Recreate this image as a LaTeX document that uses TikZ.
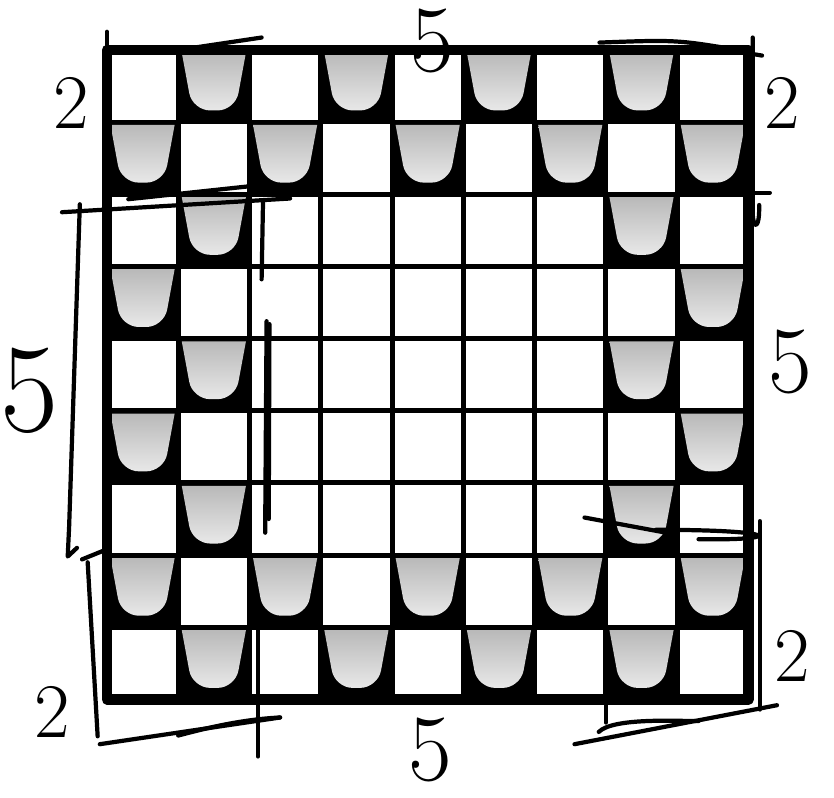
\documentclass[tikz,border=0pt]{standalone}
\begin{document}
\begin{tikzpicture}[x=0.713cm,y=0.722cm,line cap=round,line join=round,
    pen/.style={line width=1.2pt},
    num/.style={inner sep=0pt,font=\fontsize{22}{22}\selectfont},
    bignum/.style={inner sep=0pt,font=\fontsize{27}{27}\selectfont}]
  \useasboundingbox (-1.50,-1.357) rectangle (10.20,9.69);
  % dark cells of the border ring
  \foreach \r in {1,...,9}
    \foreach \c in {1,...,9}{
      \pgfmathtruncatemacro{\dark}{((\r<3)||(\r>7)||(\c<3)||(\c>7))&&(mod(\r+\c,2)==1)}
      \ifnum\dark=1
        \fill (\c-1,9-\r) rectangle (\c,10-\r);
        \shade[top color=gray!55,bottom color=gray!18]
          (\c-0.95,9.96-\r) -- (\c-0.05,9.96-\r) [rounded corners=5pt]-- (\c-0.2,9.16-\r)
          -- (\c-0.8,9.16-\r) [sharp corners]-- cycle;
      \fi
    }
  \foreach \i in {1,...,8}{
    \draw[line width=1.4pt] (\i,0) -- (\i,9);
    \draw[line width=1.4pt] (0,\i) -- (9,\i);
  }
  \draw[line width=3pt] (0,0) rectangle (9,9);
  % hand marks, top
  \draw[pen] (0,9.25) -- (0,9);
  \draw[pen] (1.02,9.0) -- (2.17,9.17);
  \draw[pen] (6.82,9.04) -- (8.92,9.04);
  \draw[pen] (6.91,9.1) .. controls (8.0,9.14) .. (8.95,8.98);
  \node[num] (twoTL) at (-0.50,8.27) {2};
  \node[bignum] (fiveT) at (4.56,9.12) {5};
  % right
  \draw[pen] (9.06,9.17) -- (9.06,6.75) .. controls (9.06,6.5) and (9.16,6.5) .. (9.15,6.85);
  \draw[pen] (8.95,8.96) -- (9.19,8.92);
  \draw[pen] (8.88,7.02) -- (9.30,7.02);
  \node[num] (twoTR) at (9.47,8.27) {2};
  \node[bignum] (fiveR) at (9.58,4.67) {5};
  \draw[pen] (6.70,2.52) -- (7.9,2.3);
  \draw[pen] (7.7,2.35) .. controls (9.5,2.35) and (9.5,2.2) .. (8.3,2.22);
  \draw[pen] (9.16,2.47) -- (9.16,-0.14);
  \node[num] (twoBR) at (9.62,0.6) {2};
  % bottom
  \draw[pen] (6.56,-0.62) -- (9.40,-0.08);
  \draw[pen] (6.9,-0.45) .. controls (7.1,-0.25) and (8.0,-0.3) .. (8.3,-0.3);
  \draw[pen] (7,0) -- (7,-0.32);
  \draw[pen] (-0.10,-0.62) -- (2.43,-0.25);
  \draw[pen] (2.43,-0.25) .. controls (1.8,-0.28) and (1.2,-0.45) .. (1.0,-0.5);
  \draw[pen] (2.12,1.07) -- (2.12,-0.79);
  \node[num] (twoBL) at (-0.77,-0.18) {2};
  \node[bignum] (fiveB) at (4.53,-0.70) {5};
  % left
  \draw[pen] (-0.27,1.90) -- (-0.13,-0.51);
  \draw[pen] (-0.35,1.94) -- (0,2.08);
  \draw[pen] (-0.38,6.86) -- (-0.53,2.4) -- (-0.55,1.98) -- (-0.42,2.1);
  \draw[pen] (-0.63,6.75) -- (2.57,6.94);
  \draw[pen] (0.3,6.93) -- (2.1,7.12);
  \node[bignum,font=\fontsize{36}{36}\selectfont] (fiveL) at (-1.08,4.27) {5};
  % inner strokes
  \draw[pen] (2.24,5.24) -- (2.22,2.31);
  \draw[pen] (2.28,5.2) -- (2.27,2.5);
  \draw[pen] (2.19,6.9) -- (2.17,5.82);
\end{tikzpicture}
\end{document}
